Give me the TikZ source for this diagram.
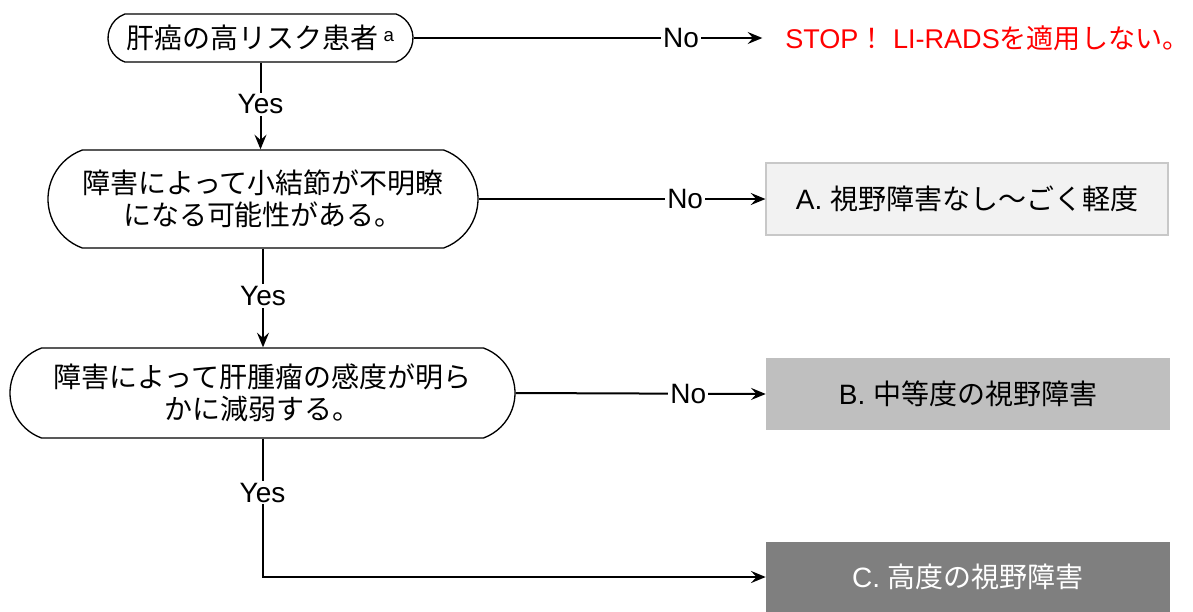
\documentclass[tikz,border=0pt]{standalone}
\usepackage{fontspec}
\setmainfont{Liberation Sans}
\newfontfamily\cjk{Noto Sans CJK JP}
\usetikzlibrary{shapes.misc,arrows.meta}
\definecolor{boxa}{HTML}{F2F2F2}
\definecolor{boxaborder}{HTML}{C8C8C8}
\definecolor{boxb}{HTML}{BFBFBF}
\definecolor{boxc}{HTML}{7F7F7F}
\begin{document}
\begin{tikzpicture}[x=0.75pt,y=-0.75pt,
  every node/.style={font=\fontsize{21pt}{24pt}\selectfont},
  pill/.style={draw=black,line width=1pt,rounded rectangle,rounded rectangle arc length=140,inner sep=0pt,align=center},
  resbox/.style={rectangle,inner sep=0pt,align=center},
  conn/.style={line width=1.5pt,-{Stealth[length=11pt,width=9pt,inset=4pt]}},
  lbl/.style={fill=white,inner sep=1.5pt}
]
\useasboundingbox (0,0) rectangle (1193,611);

\node[pill,minimum width=305*0.75pt,minimum height=48*0.75pt] (n1) at (260.5,38)
  {{\cjk 肝癌の高リスク患者}\,{\fontsize{14pt}{14pt}\selectfont\raisebox{5pt}{a}}};
\node[pill,minimum width=430*0.75pt,minimum height=98*0.75pt] (n2) at (263,199)
  {\cjk 障害によって小結節が不明瞭\\\cjk になる可能性がある。};
\node[pill,minimum width=505*0.75pt,minimum height=90*0.75pt] (n3) at (262.5,393)
  {\cjk 障害によって肝腫瘤の感度が明ら\\\cjk かに減弱する。};

\node[anchor=west,inner sep=0pt,text=red,font=\fontsize{20.3pt}{24pt}\selectfont] (stop) at (785,38)
  {STOP{\cjk ！} LI-RADS{\cjk を適用しない。}};
\node[resbox,fill=boxa,draw=boxaborder,line width=0.8pt,minimum width=402*0.75pt,minimum height=72*0.75pt] (ba) at (967,199)
  {A. {\cjk 視野障害なし～ごく軽度}};
\node[resbox,fill=boxb,minimum width=404*0.75pt,minimum height=72*0.75pt] (bb) at (968,394)
  {B. {\cjk 中等度の視野障害}};
\node[resbox,fill=boxc,text=white,minimum width=404*0.75pt,minimum height=70*0.75pt] (bc) at (968,577)
  {C. {\cjk 高度の視野障害}};

\coordinate (corner) at (n3.south |- bc.west);

\draw[conn,shorten >=17pt] (n1.east) -- node[lbl,pos=0.72]{No} (stop.west);
\draw[conn] (n1.south) -- node[lbl,pos=0.48]{Yes} (n1.south |- n2.north);
\draw[conn] (n2.east) -- node[lbl,pos=0.72]{No} (ba.west);
\draw[conn] (n2.south) -- node[lbl,pos=0.48]{Yes} (n2.south |- n3.north);
\draw[conn] (n3.east) -- node[lbl,pos=0.69]{No} (bb.west);
\draw[conn] (n3.south) -- node[lbl,pos=0.39]{Yes} (corner) -- (bc.west);
\end{tikzpicture}
\end{document}
